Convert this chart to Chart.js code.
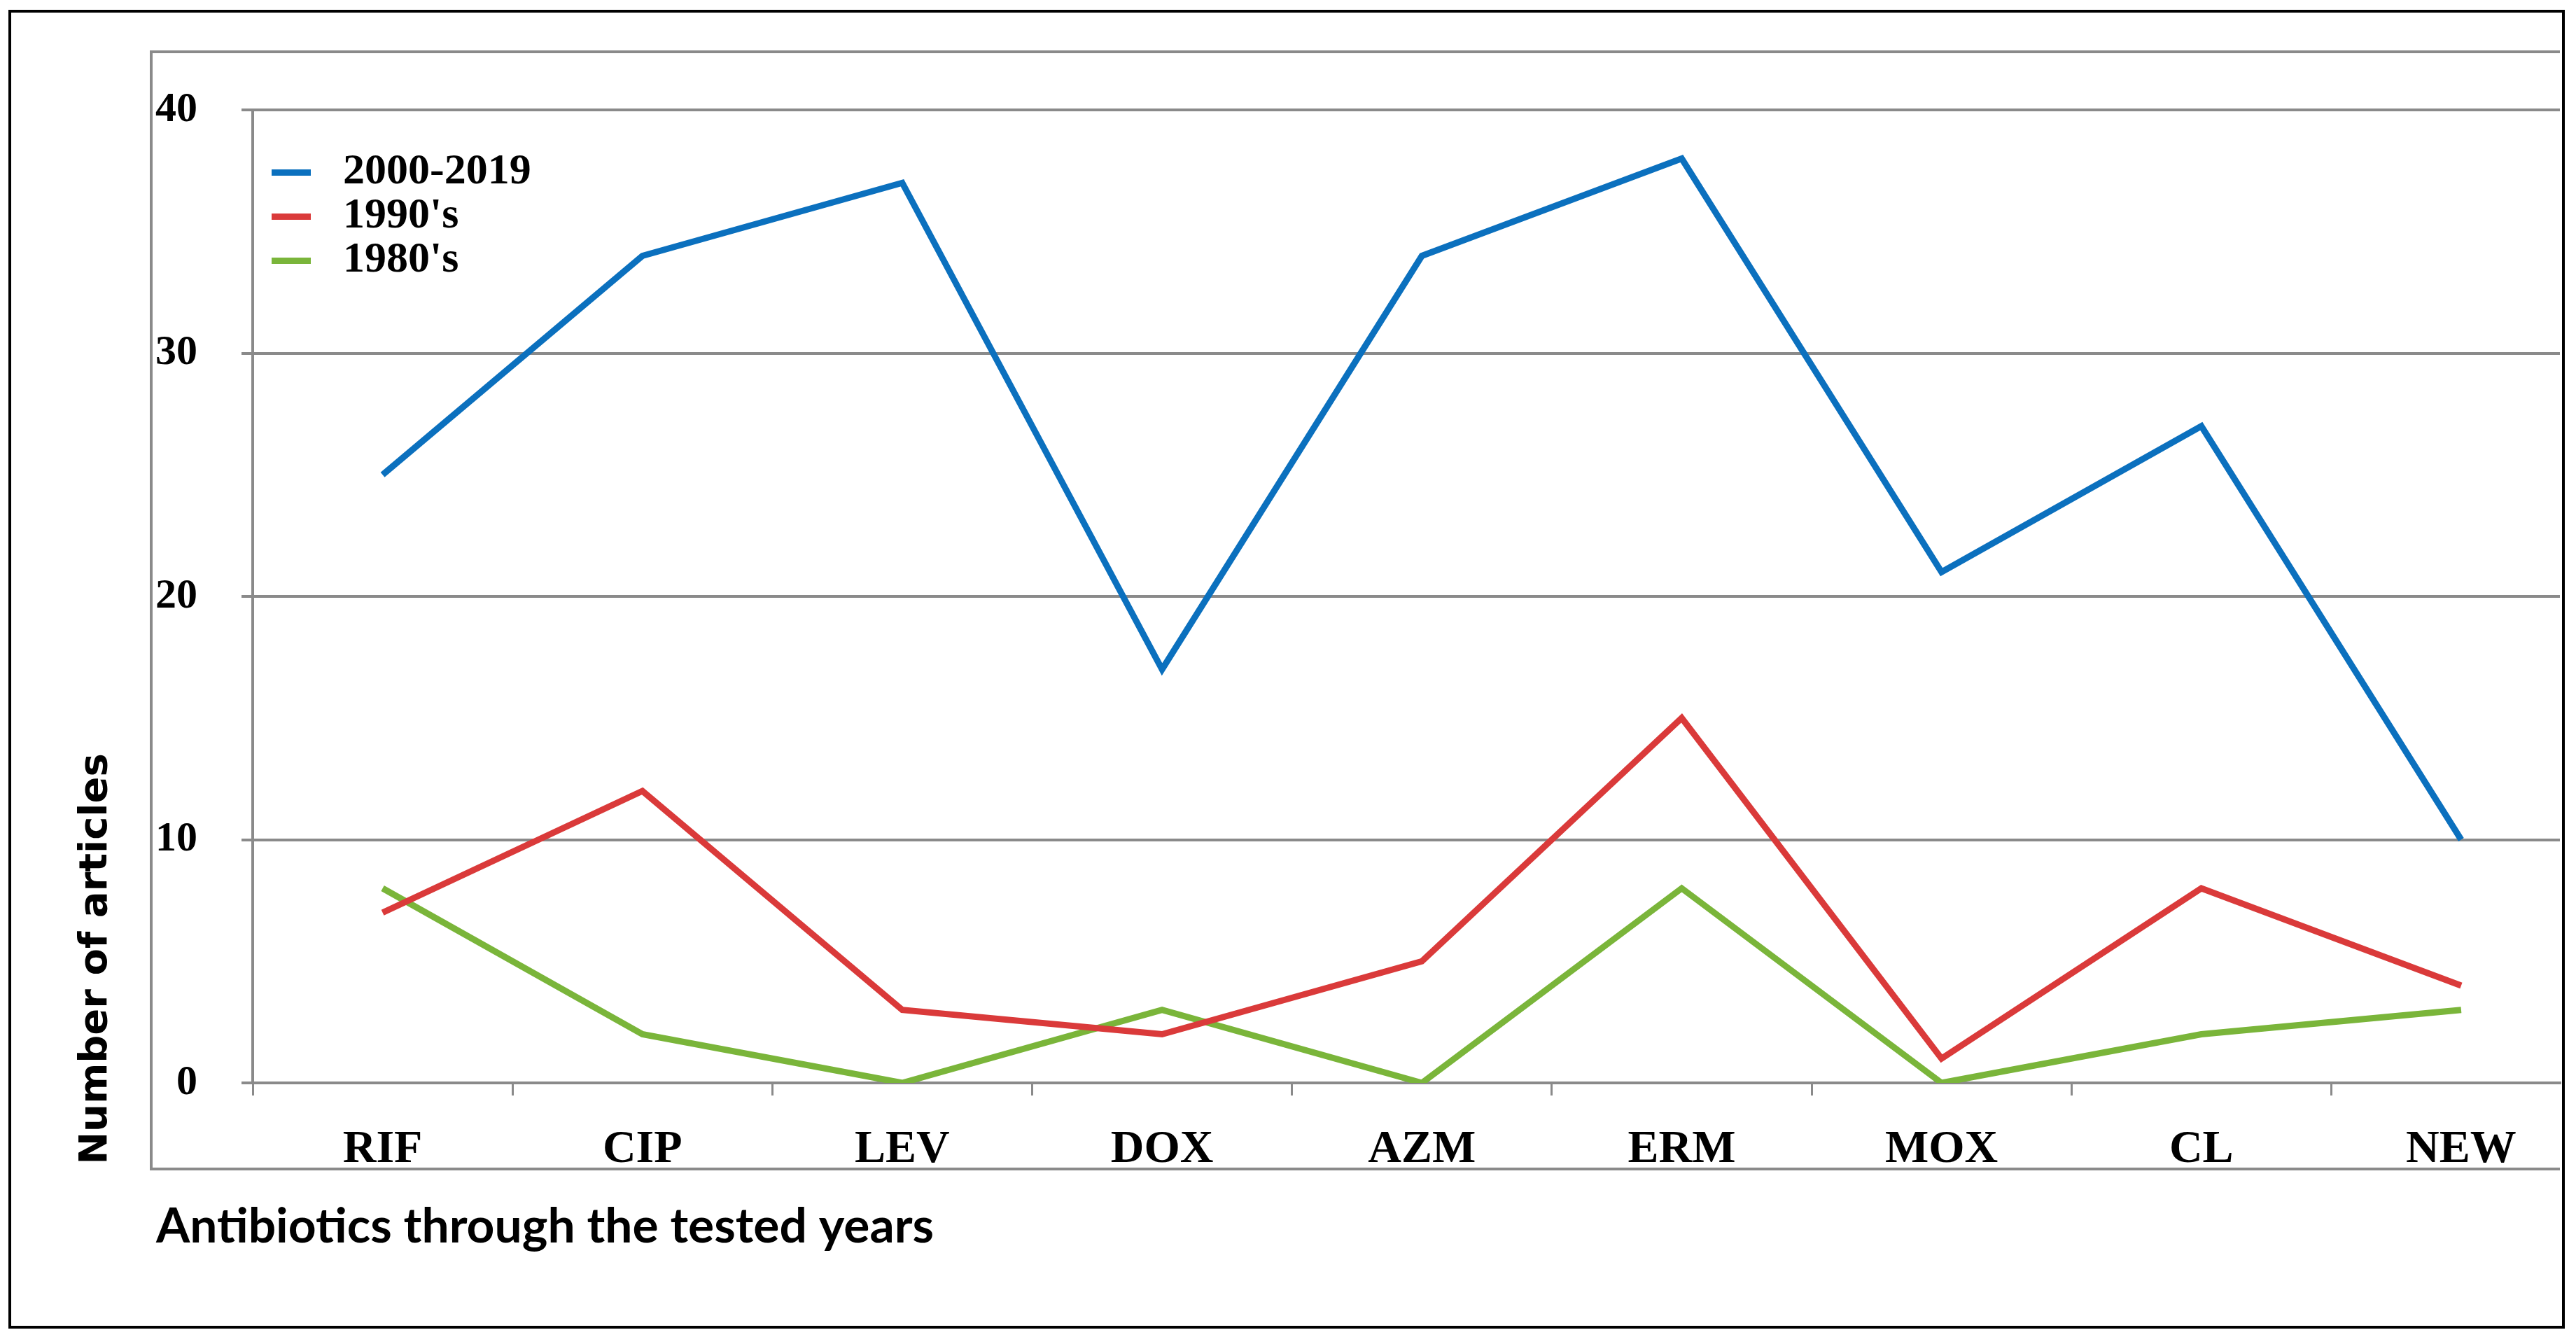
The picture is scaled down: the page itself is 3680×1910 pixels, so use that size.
<!DOCTYPE html>
<html>
<head>
<meta charset="utf-8">
<title>Antibiotics through the tested years</title>
<script src="https://cdn.jsdelivr.net/npm/chart.js@4.4.1/dist/chart.umd.min.js"></script>
<style>
  html, body { margin: 0; padding: 0; background: #fff; }
  #page { position: relative; width: 3680px; height: 1910px; overflow: hidden; }
  #chart { position: absolute; left: 0; top: 0; }
  #frame {
    position: absolute; left: 12px; top: 14px; width: 3652px; height: 1884px;
    border: 4px solid #000; box-sizing: border-box; pointer-events: none;
  }
</style>
</head>
<body>
<div id="page">
  <canvas id="chart" width="3680" height="1910"></canvas>
  <div id="frame"></div>
</div>
<script>
// categories on the x axis
const categories = ['RIF', 'CIP', 'LEV', 'DOX', 'AZM', 'ERM', 'MOX', 'CL', 'NEW'];

// number of articles per period
const seriesLabels = ['2000-2019', "1990's", "1980's"];
const articles2000s = [25, 34, 37, 17, 34, 38, 21, 27, 10];
const articles1990s = [7, 12, 3, 2, 5, 15, 1, 8, 4];
const articles1980s = [8, 2, 0, 3, 0, 8, 0, 2, 3];

const yTicks = [0, 10, 20, 30, 40];

const yTitle = 'Number of articles';
const xTitle = 'Antibiotics through the tested years';

const BLUE = '#0b70be';
const RED = '#da3a3a';
const GREEN = '#7ab53a';
const GRID = '#8a8a8a';

// the last category is cut off by the picture edge in the original
const X_MAX = 8.38;

const toPoints = arr => arr.map((v, i) => ({ x: i, y: v }));

// inner grey box, axis titles and the in-plot legend
const decor = {
  id: 'decor',
  beforeDraw(chart) {
    const ctx = chart.ctx;
    ctx.save();
    ctx.strokeStyle = GRID;
    ctx.lineWidth = 4;
    ctx.beginPath();
    ctx.moveTo(3657, 74);
    ctx.lineTo(216, 74);
    ctx.lineTo(216, 1670);
    ctx.lineTo(3657, 1670);
    ctx.stroke();
    ctx.restore();
  },
  afterDraw(chart) {
    const ctx = chart.ctx;
    const area = chart.chartArea;
    ctx.save();

    // legend
    ctx.font = 'bold 62px "Liberation Serif", "Times New Roman", serif';
    ctx.textBaseline = 'middle';
    ctx.textAlign = 'left';
    chart.data.datasets.forEach((ds, i) => {
      const y = area.top + 89 + i * 63;
      ctx.fillStyle = ds.borderColor;
      ctx.fillRect(area.left + 27, y - 4, 56, 9);
      ctx.fillStyle = '#000';
      ctx.fillText(ds.label, area.left + 129, y);
    });

    // y title
    ctx.save();
    ctx.translate(137, 1370);
    ctx.rotate(-Math.PI / 2);
    ctx.font = 'bold 56px "DejaVu Sans", Verdana, sans-serif';
    ctx.textAlign = 'center';
    ctx.textBaseline = 'middle';
    ctx.fillStyle = '#000';
    ctx.fillText(yTitle, 0, 0);
    ctx.restore();

    // x title
    ctx.font = 'bold 69.5px Lato, "Open Sans", sans-serif';
    ctx.textAlign = 'left';
    ctx.textBaseline = 'alphabetic';
    ctx.fillStyle = '#000';
    ctx.fillText(xTitle, 223, 1775);

    ctx.restore();
  }
};

new Chart(document.getElementById('chart'), {
  type: 'line',
  data: {
    datasets: [
      { label: seriesLabels[0], data: toPoints(articles2000s), borderColor: BLUE },
      { label: seriesLabels[1], data: toPoints(articles1990s), borderColor: RED },
      { label: seriesLabels[2], data: toPoints(articles1980s), borderColor: GREEN }
    ].map(ds => Object.assign(ds, {
      borderWidth: 9,
      pointRadius: 0,
      tension: 0,
      fill: false,
      borderJoinStyle: 'miter'
    }))
  },
  options: {
    responsive: false,
    animation: false,
    devicePixelRatio: 1,
    layout: { padding: { left: 0, top: 157, right: 23, bottom: 0 } },
    plugins: {
      legend: { display: false },
      tooltip: { enabled: false }
    },
    scales: {
      x: {
        type: 'linear',
        min: -0.5,
        max: X_MAX,
        afterBuildTicks: axis => {
          axis.ticks = categories.flatMap((_, i) => [{ value: i - 0.5 }, { value: i }]);
        },
        afterFit: axis => { axis.height = 363; },
        ticks: {
          autoSkip: false,
          maxRotation: 0,
          padding: 38,
          color: '#000',
          font: { family: '"Liberation Serif", "Times New Roman", serif', weight: 'bold', size: 66 },
          callback: v => (Number.isInteger(v) ? categories[v] : '')
        },
        grid: {
          drawOnChartArea: false,
          drawTicks: true,
          tickLength: 18,
          lineWidth: 3,
          color: ctx => (ctx.tick && Number.isInteger(ctx.tick.value) ? 'rgba(0,0,0,0)' : GRID)
        },
        border: { display: true, color: GRID, width: 4 }
      },
      y: {
        min: 0,
        max: 40,
        afterBuildTicks: axis => {
          axis.ticks = yTicks.map(v => ({ value: v }));
        },
        afterFit: axis => { axis.width = 361; },
        ticks: {
          padding: 63,
          color: '#000',
          font: { family: '"Liberation Serif", "Times New Roman", serif', weight: 'bold', size: 60 }
        },
        grid: { color: GRID, lineWidth: 4, tickLength: 16, drawTicks: true },
        border: { display: true, color: GRID, width: 4 }
      }
    }
  },
  plugins: [decor]
});
</script>
</body>
</html>
